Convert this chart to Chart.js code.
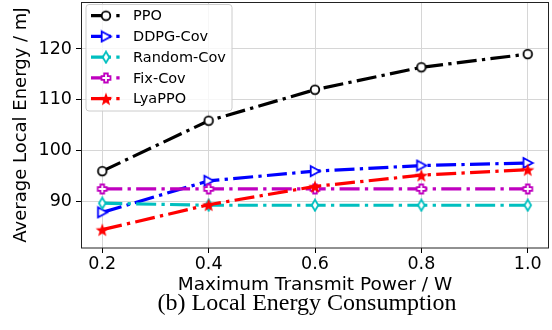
<!DOCTYPE html>
<html><head><meta charset="utf-8">
<script src="https://cdn.jsdelivr.net/npm/chart.js@4/dist/chart.umd.min.js"></script>
<style>
html,body{margin:0;padding:0;background:#fff;}
#wrap{width:552px;height:330px;position:relative;overflow:hidden;}
#cap{position:absolute;left:31px;width:552px;top:288px;text-align:center;font-family:"Liberation Serif";font-size:24px;line-height:28px;color:#000;white-space:nowrap;}
</style>
</head><body><div id="wrap"><canvas id="c" width="552" height="330"></canvas><div id="cap">(b) Local Energy Consumption</div></div>
<script>
const xValues = [0.2, 0.4, 0.6, 0.8, 1.0];
const xTicks = [0.2, 0.4, 0.6, 0.8, 1.0];
const yTicks = [90, 100, 110, 120];
const ppo = [96.0, 105.9, 112.0, 116.4, 119.0];
const ddpgCov = [87.9, 94.1, 96.0, 97.1, 97.6];
const randomCov = [89.7, 89.3, 89.3, 89.3, 89.3];
const fixCov = [92.5, 92.5, 92.5, 92.5, 92.5];
const lyaPPO = [84.5, 89.4, 93.0, 95.2, 96.3];
const seriesNames = ['PPO', 'DDPG-Cov', 'Random-Cov', 'Fix-Cov', 'LyaPPO'];

function mk(size, draw){const c=document.createElement('canvas');c.width=size;c.height=size;const g=c.getContext('2d');draw(g,size/2);return c;}
const mCircle = mk(14,(g,h)=>{g.beginPath();g.arc(h,h,4.3,0,Math.PI*2);g.fillStyle='#fff';g.fill();g.lineWidth=1.8;g.strokeStyle='#000';g.stroke();});
const mTri = mk(14,(g,h)=>{g.beginPath();g.moveTo(h+5,h);g.lineTo(h-4.3,h-5);g.lineTo(h-4.3,h+5);g.closePath();g.fillStyle='#fff';g.fill();g.lineWidth=1.8;g.strokeStyle='#0000ff';g.stroke();});
const mDia = mk(14,(g,h)=>{g.beginPath();g.moveTo(h,h-5.5);g.lineTo(h+3.3,h);g.lineTo(h,h+5.5);g.lineTo(h-3.3,h);g.closePath();g.fillStyle='#fff';g.fill();g.lineWidth=1.8;g.strokeStyle='#00bfbf';g.stroke();});
const mPlus = mk(14,(g,h)=>{const a=1.8,b=4.5;g.beginPath();g.moveTo(h-a,h-b);g.lineTo(h+a,h-b);g.lineTo(h+a,h-a);g.lineTo(h+b,h-a);g.lineTo(h+b,h+a);g.lineTo(h+a,h+a);g.lineTo(h+a,h+b);g.lineTo(h-a,h+b);g.lineTo(h-a,h+a);g.lineTo(h-b,h+a);g.lineTo(h-b,h-a);g.lineTo(h-a,h-a);g.closePath();g.fillStyle='#fff';g.fill();g.lineWidth=1.8;g.strokeStyle='#bf00bf';g.stroke();});
const mStar = mk(16,(g,h)=>{g.beginPath();const R=7,r=2.9;for(let i=0;i<10;i++){const ang=-Math.PI/2+i*Math.PI/5;const rr=i%2?r:R;g.lineTo(h+rr*Math.cos(ang),h+0.8+rr*Math.sin(ang));}g.closePath();g.fillStyle='#ff0000';g.fill();});

const colors = ['#000000','#0000ff','#00bfbf','#bf00bf','#ff0000'];
const markers = [mCircle, mTri, mDia, mPlus, mStar];
const seriesData = [ppo, ddpgCov, randomCov, fixCov, lyaPPO];
const dash = [20,5.3,3.3,5.3];

const datasets = seriesNames.map((n,i)=>({
  label:n,
  data: xValues.map((x,j)=>({x:x,y:seriesData[i][j]})),
  borderColor: colors[i], backgroundColor: colors[i],
  borderWidth: 3.2, borderDash: dash,
  pointStyle: markers[i], pointRadius: 6, pointHoverRadius: 6,
  tension: 0, order: 5-i
}));

const frameLegend = {
  id:'frameLegend',
  afterDatasetsDraw(chart){
    const g=chart.ctx, a=chart.chartArea;
    g.save();
    g.strokeStyle='#222';g.lineWidth=1;g.setLineDash([]);
    g.strokeRect(a.left+0.5,a.top+0.5,a.right-a.left-1,a.bottom-a.top-0.5);
    const lx=a.left+5, ly=a.top+2.5, lw=146, lh=106.5;
    g.beginPath();
    if(g.roundRect) g.roundRect(lx,ly,lw,lh,3); else g.rect(lx,ly,lw,lh);
    g.fillStyle='rgba(255,255,255,0.8)';g.fill();
    g.strokeStyle='#cccccc';g.lineWidth=1;g.stroke();
    g.font='14.5px "DejaVu Sans"';g.textBaseline='middle';g.textAlign='left';
    seriesNames.forEach((n,i)=>{
      const yy=ly+11.2+i*20.75;
      g.beginPath();g.setLineDash(dash);g.lineDashOffset=-1;
      g.strokeStyle=colors[i];g.lineWidth=3.2;
      g.moveTo(lx+4,yy);g.lineTo(lx+34,yy);g.stroke();
      g.setLineDash([]);
      const m=markers[i];
      g.drawImage(m,lx+20-m.width/2,yy-m.height/2);
      g.fillStyle='#000';
      g.fillText(n,lx+47,yy+1);
    });
    g.restore();
  }
};

new Chart(document.getElementById('c'),{
  type:'line',
  data:{datasets},
  options:{
    responsive:false, animation:false,
    layout:{autoPadding:false,padding:{left:0,right:3,top:2,bottom:0}},
    plugins:{legend:{display:false}, tooltip:{enabled:false}},
    scales:{
      x:{type:'linear',min:0.16,max:1.04,
        afterBuildTicks(ax){ax.ticks=xTicks.map(v=>({value:v}));},
        afterFit(ax){ax.height=82;ax.paddingLeft=0;ax.paddingRight=0;ax.paddingTop=0;ax.paddingBottom=0;},
        ticks:{color:'#000',font:{family:'"DejaVu Sans"',size:17.5},padding:1,callback:v=>v.toFixed(1),maxRotation:0},
        grid:{color:'#d6d6d6',borderDash:[3,3],tickColor:'#000',tickLength:5,tickBorderDash:[]},
        border:{display:false},
        title:{display:true,text:'Maximum Transmit Power / W',color:'#000',font:{family:'"DejaVu Sans"',size:18.5},padding:{top:2,bottom:33.4}}
      },
      y:{type:'linear',min:80.9,max:129.23,
        afterBuildTicks(ax){ax.ticks=yTicks.map(v=>({value:v}));},
        afterFit(ax){ax.width=81;ax.paddingTop=0;ax.paddingBottom=0;ax.paddingLeft=0;ax.paddingRight=0;},
        ticks:{color:'#000',font:{family:'"DejaVu Sans"',size:17.5},padding:4},
        grid:{color:'#d6d6d6',borderDash:[3,3],tickColor:'#000',tickLength:5,tickBorderDash:[]},
        border:{display:false},
        title:{display:true,text:'Average Local Energy / mJ',color:'#000',font:{family:'"DejaVu Sans"',size:18},padding:{top:11,bottom:4}}
      }
    }
  },
  plugins:[frameLegend]
});
</script></body></html>
